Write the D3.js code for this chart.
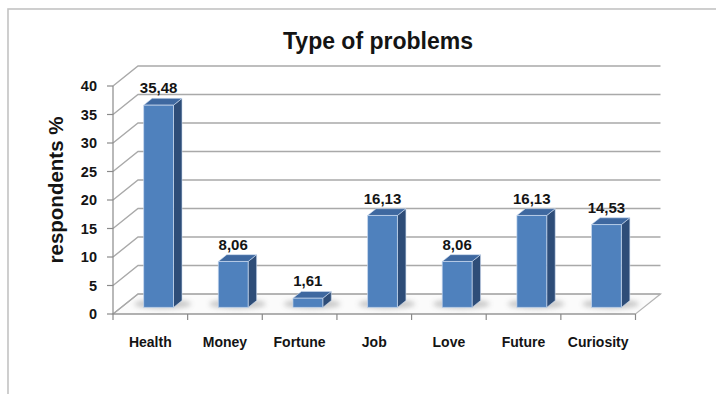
<!DOCTYPE html>
<html>
<head>
<meta charset="utf-8">
<script src="https://cdn.jsdelivr.net/npm/d3@7"></script>
<style>
  html, body { margin: 0; padding: 0; background: #fff; }
  svg { display: block; }
  text { font-family: "Liberation Sans", Arial, sans-serif; font-weight: bold; fill: #141414; }
</style>
</head>
<body>
<svg id="chart" width="716" height="394"></svg>
<script>
// Chart data
const categories = ["Health", "Money", "Fortune", "Job", "Love", "Future", "Curiosity"];
const values = [35.48, 8.06, 1.61, 16.13, 8.06, 16.13, 14.53];
const valueLabels = ["35,48", "8,06", "1,61", "16,13", "8,06", "16,13", "14,53"];
const yTicks = [0, 5, 10, 15, 20, 25, 30, 35, 40];
const titleText = "Type of problems";
const yAxisTitle = "respondents %";

const svg = d3.select("#chart");

// Front plane of the 3D plot area
const plotLeft = 113, plotRight = 635.5, plotBottom = 314, plotTop = 86;
// Oblique depth offset from front plane to back wall
const DX = 25, DY = -20;

const x = d3.scaleBand().domain(categories).range([plotLeft, plotRight])
  .paddingInner(0.6).paddingOuter(0.3);
const step = x.step();
const y = d3.scaleLinear().domain([0, 40]).range([plotBottom, plotTop]);

// project point (px on front, value, depth z in [0,1])
const P = (px, v, z) => [px + DX * z, y(v) + DY * z];
const poly = pts => pts.map(p => p.join(",")).join(" ");

// Outer chart frame
svg.append("rect").attr("x", 8).attr("y", 9).attr("width", 760).attr("height", 420)
  .attr("fill", "none").attr("stroke", "#c3c3c3").attr("stroke-width", 1.6);

const defs = svg.append("defs");
defs.append("filter").attr("id", "soft").attr("x", "-50%").attr("y", "-200%")
  .attr("width", "200%").attr("height", "500%")
  .append("feGaussianBlur").attr("stdDeviation", 2.6);

// Floor
svg.append("polygon")
  .attr("points", poly([P(plotLeft, 0, 0), P(plotRight, 0, 0), P(plotRight, 0, 1), P(plotLeft, 0, 1)]))
  .attr("fill", "#fbfbfb").attr("stroke", "#b4b4b4").attr("stroke-width", 1.2);

// Gridlines on the back wall and side wall
const grid = svg.append("g").attr("fill", "none").attr("stroke", "#a9a9a9").attr("stroke-width", 1.4);
yTicks.forEach(t => {
  const a = P(plotLeft, t, 0), b = P(plotLeft, t, 1), c = P(plotRight, t, 1);
  grid.append("polyline").attr("points", poly([a, b, c]));
});

// Front value axis line and ticks
const axis = svg.append("g").attr("stroke", "#8a8a8a").attr("stroke-width", 1.2);
axis.append("line").attr("x1", plotLeft).attr("x2", plotLeft).attr("y1", y(0)).attr("y2", y(40));
yTicks.forEach(t => {
  axis.append("line").attr("x1", plotLeft - 6).attr("x2", plotLeft).attr("y1", y(t)).attr("y2", y(t));
});
// Category axis line and tick marks at category boundaries
axis.append("line").attr("x1", plotLeft).attr("x2", plotRight).attr("y1", y(0)).attr("y2", y(0));
d3.range(categories.length + 1).forEach(i => {
  const xx = plotLeft + i * step;
  axis.append("line").attr("x1", xx).attr("x2", xx).attr("y1", y(0)).attr("y2", y(0) + 6);
});

// Y tick labels
svg.append("g").selectAll("text").data(yTicks).join("text")
  .attr("x", 97).attr("y", d => y(d) + 5)
  .attr("text-anchor", "end").attr("font-size", 14.5)
  .text(d => d);

// Axis title
svg.append("text")
  .attr("transform", "translate(63,190) rotate(-90)")
  .attr("text-anchor", "middle").attr("font-size", 20.5)
  .text(yAxisTitle);

// Chart title
svg.append("text").attr("x", 378).attr("y", 49)
  .attr("text-anchor", "middle").attr("font-size", 23)
  .text(titleText);

// Category labels
svg.append("g").selectAll("text").data(categories).join("text")
  .attr("x", d => x(d) + x.bandwidth() / 2).attr("y", 347)
  .attr("text-anchor", "middle").attr("font-size", 14)
  .text(d => d);

// Bars
const z0 = 0.33, z1 = 0.67;
const bw = x.bandwidth();
const data = categories.map((c, i) => ({ c, v: values[i], label: valueLabels[i] }));

// soft floor shadows under each bar
svg.append("g").selectAll("ellipse").data(data).join("ellipse")
  .attr("cx", d => x(d.c) + bw / 2 + DX * 0.5)
  .attr("cy", y(0) + DY * 0.5)
  .attr("rx", bw * 0.95).attr("ry", 5)
  .attr("fill", "#8e8e8e").attr("opacity", 0.45)
  .attr("filter", "url(#soft)");

const bars = svg.append("g").selectAll("g").data(data).join("g");
const edge = "rgba(205,220,240,0.85)";
// side face
bars.append("polygon")
  .attr("points", d => {
    const xr = x(d.c) + bw;
    return poly([P(xr, 0, z0), P(xr, 0, z1), P(xr, d.v, z1), P(xr, d.v, z0)]);
  })
  .attr("fill", "#2e4d78").attr("stroke", edge).attr("stroke-width", 0.7);
// top face
bars.append("polygon")
  .attr("points", d => {
    const xl = x(d.c), xr = xl + bw;
    return poly([P(xl, d.v, z0), P(xr, d.v, z0), P(xr, d.v, z1), P(xl, d.v, z1)]);
  })
  .attr("fill", "#3e68a0").attr("stroke", edge).attr("stroke-width", 0.7);
// front face
bars.append("polygon")
  .attr("points", d => {
    const xl = x(d.c), xr = xl + bw;
    return poly([P(xl, 0, z0), P(xr, 0, z0), P(xr, d.v, z0), P(xl, d.v, z0)]);
  })
  .attr("fill", "#4f81bd").attr("stroke", edge).attr("stroke-width", 0.8);

// Value labels above each bar
bars.append("text")
  .attr("x", d => x(d.c) + bw / 2 + DX * z0)
  .attr("y", d => y(d.v) + DY * z1 - 5)
  .attr("text-anchor", "middle").attr("font-size", 15)
  .text(d => d.label);
</script>
</body>
</html>
